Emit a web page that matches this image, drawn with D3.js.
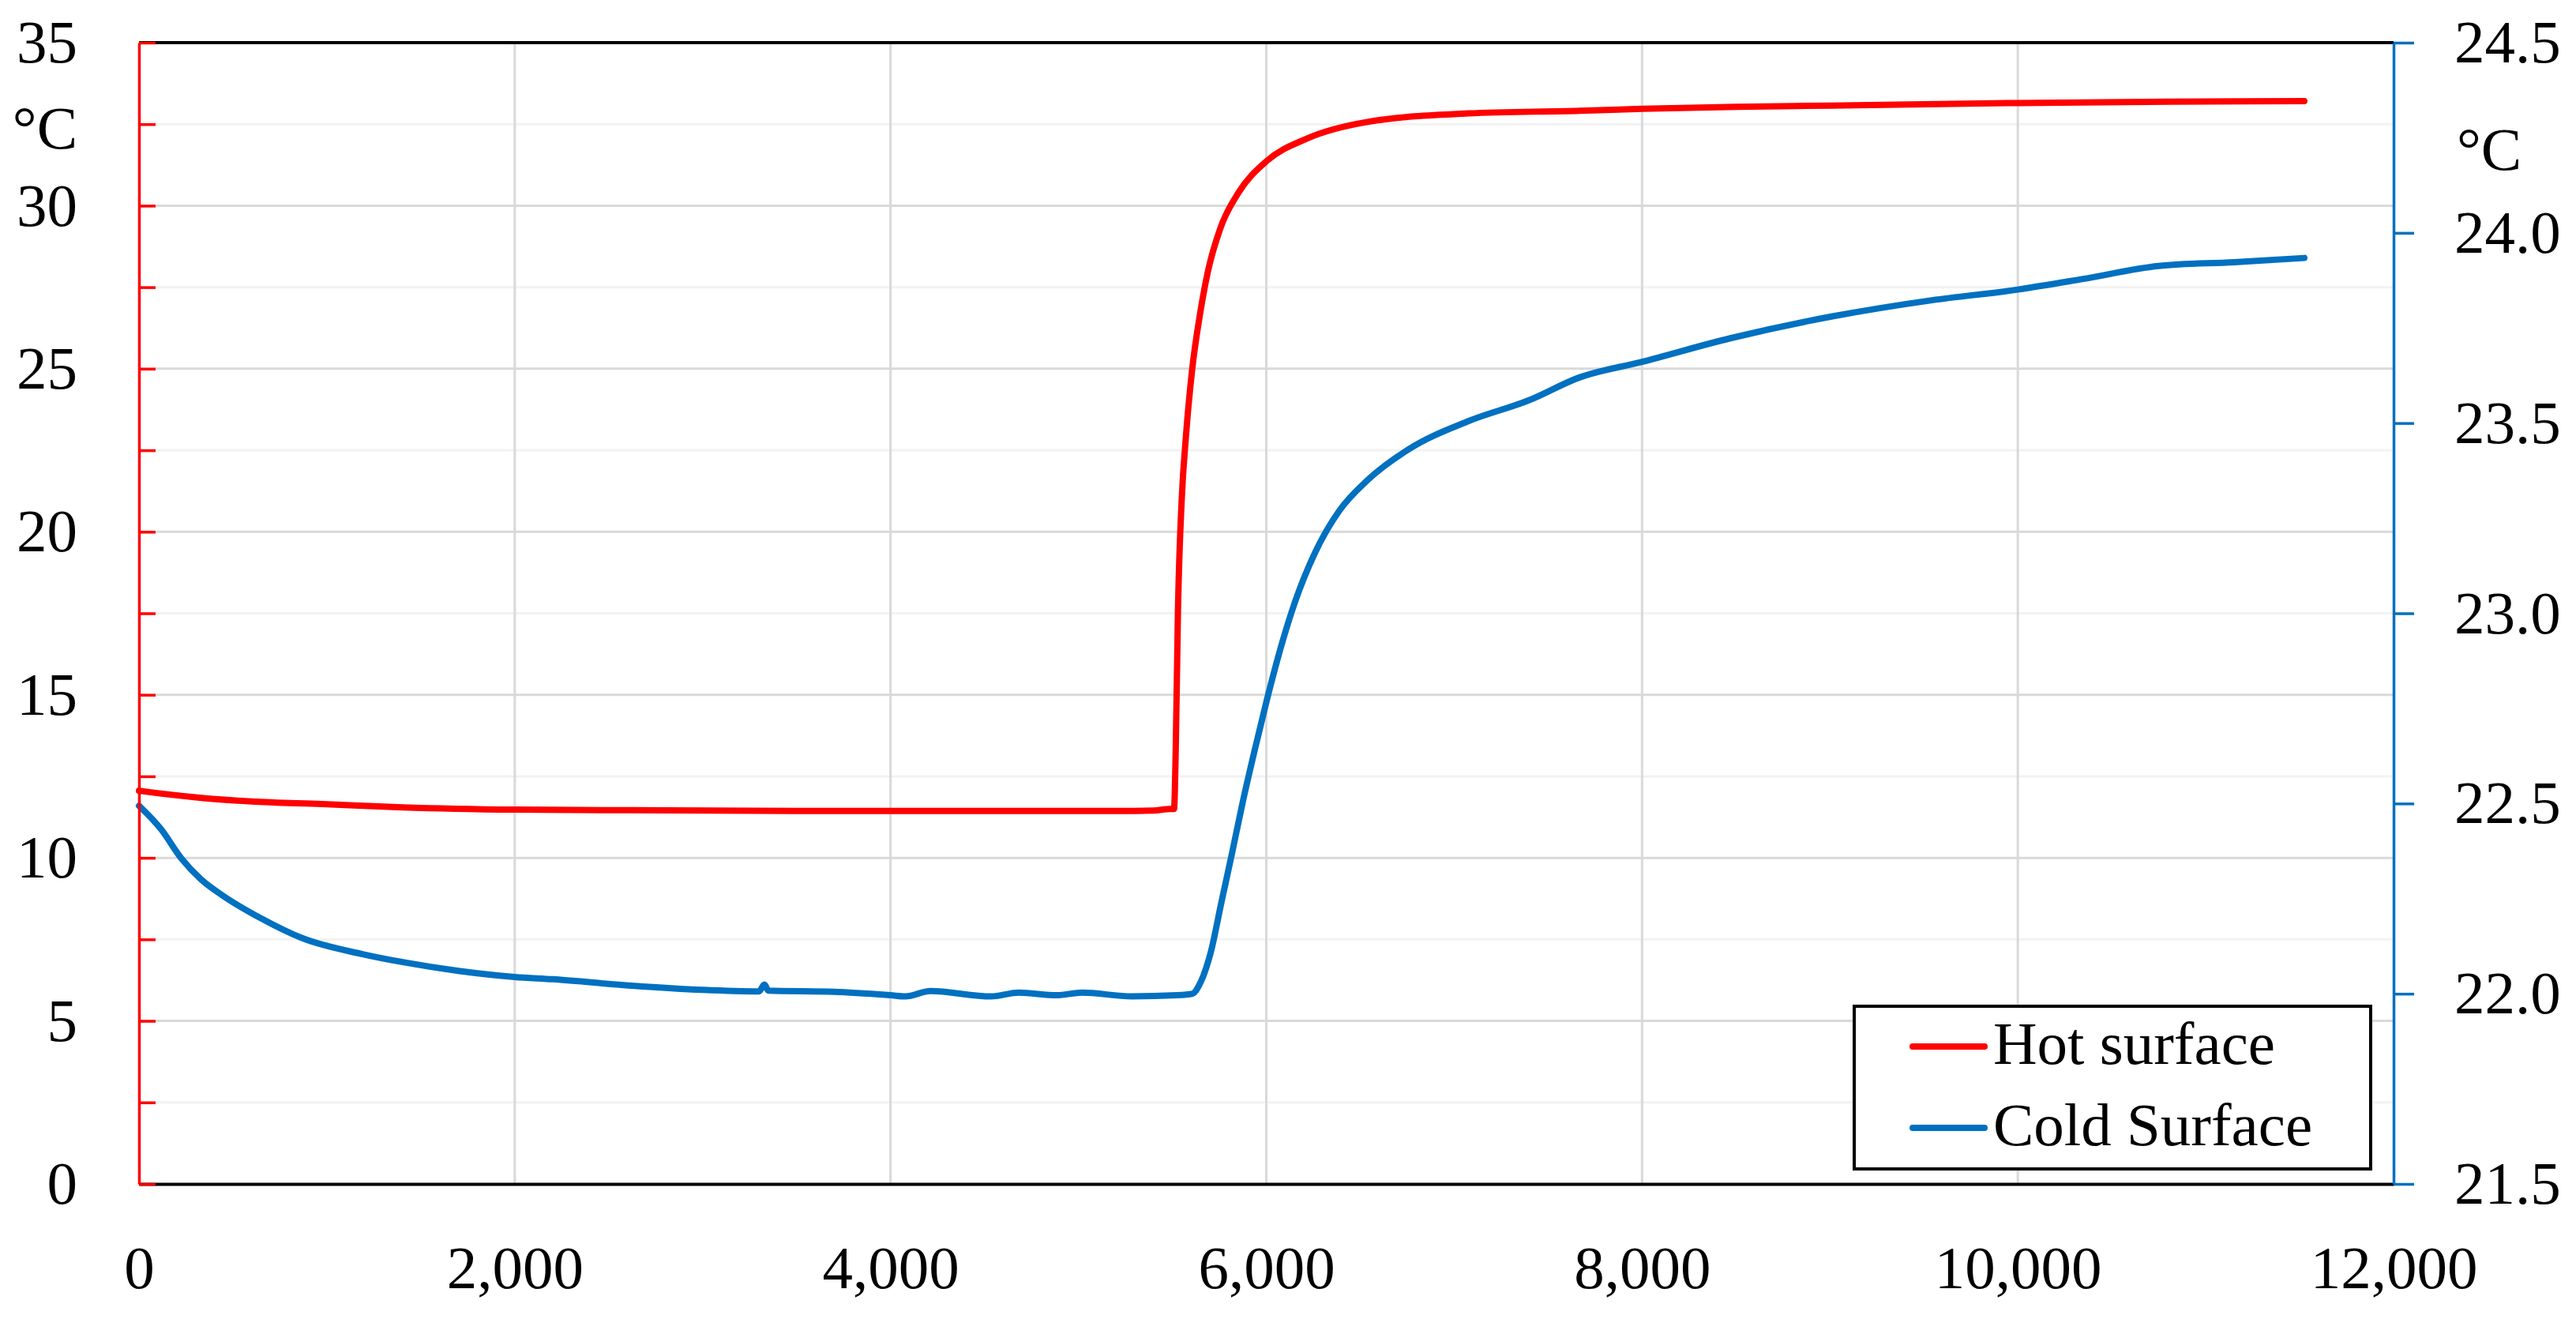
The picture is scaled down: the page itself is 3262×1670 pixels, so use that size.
<!DOCTYPE html>
<html>
<head>
<meta charset="utf-8">
<script src="https://cdn.jsdelivr.net/npm/d3@7"></script>
<style>
body { margin: 0; background: #fff; }
text { font-family: "Liberation Serif", "Times New Roman", serif; }
</style>
</head>
<body>
<div id="chart"></div>
<script>
var W = 3262, H = 1670;

// hot surface, left axis (°C)
var hotTime = [0, 150, 332, 600, 975, 1404, 2000, 2623, 3500, 4500, 5300, 5400, 5490, 5509, 5518, 5530, 5550, 5572, 5604, 5648, 5690, 5755, 5852, 6002, 6217, 6539, 7075, 7667, 8000, 8507, 9000, 10000, 10800, 11525];
var hotTemp = [12.06, 11.95, 11.84, 11.73, 11.65, 11.55, 11.48, 11.46, 11.44, 11.44, 11.44, 11.45, 11.5, 11.5, 13.3, 17.6, 21.0, 22.9, 24.9, 26.7, 28.0, 29.3, 30.4, 31.37, 32.06, 32.57, 32.83, 32.91, 32.97, 33.03, 33.07, 33.15, 33.19, 33.21];

// cold surface, right axis (°C)
var coldTime = [0, 118, 225, 332, 440, 654, 869, 1190, 1404, 1700, 2000, 2203, 2623, 3000, 3300, 3329, 3350, 3700, 4000, 4080, 4212, 4536, 4683, 4885, 5019, 5284, 5527, 5608, 5640, 5705, 5761, 5818, 5873, 5943, 6002, 6089, 6153, 6260, 6389, 6539, 6754, 7075, 7398, 7667, 8000, 8470, 9008, 9543, 10000, 10349, 10749, 11152, 11525];
var coldTemp = [22.494, 22.432, 22.356, 22.30, 22.26, 22.197, 22.146, 22.104, 22.083, 22.06, 22.044, 22.038, 22.021, 22.01, 22.006, 22.024, 22.008, 22.005, 21.996, 21.993, 22.007, 21.993, 22.003, 21.996, 22.003, 21.993, 21.996, 22.0, 22.02, 22.11, 22.24, 22.37, 22.50, 22.65, 22.77, 22.93, 23.03, 23.16, 23.27, 23.35, 23.43, 23.505, 23.56, 23.62, 23.661, 23.723, 23.78, 23.823, 23.851, 23.879, 23.913, 23.923, 23.934];

var xTicks = [0, 2000, 4000, 6000, 8000, 10000, 12000];
var leftTicks = [0, 2.5, 5, 7.5, 10, 12.5, 15, 17.5, 20, 22.5, 25, 27.5, 30, 32.5, 35];
var rightTicks = [21.5, 22.0, 22.5, 23.0, 23.5, 24.0, 24.5];
var seriesNames = ["Hot surface", "Cold Surface"];
var seriesColors = ["#ff0000", "#0070c0"];

// plot box (note: "top" is a reserved window global, so use other names)
var pL = 176, pR = 3031, pT = 54, pB = 1499;
var fs = 77;

var svg = d3.select("#chart").append("svg")
  .attr("width", W).attr("height", H);
svg.append("rect").attr("width", W).attr("height", H).attr("fill", "#fff");

var x = d3.scaleLinear().domain([0, 12000]).range([pL, pR]);
var yL = d3.scaleLinear().domain([0, 35]).range([pB, pT]);
var yR = d3.scaleLinear().domain([21.5, 24.5]).range([pB, pT]);

// grid
svg.append("g").selectAll("line").data(leftTicks.filter(function(d){ return d > 0 && d < 35; }))
  .enter().append("line")
  .attr("x1", pL).attr("x2", pR)
  .attr("y1", function(d){ return yL(d); }).attr("y2", function(d){ return yL(d); })
  .attr("stroke", function(d){ return d % 5 == 0 ? "#d9d9d9" : "#f2f2f2"; })
  .attr("stroke-width", 3);

svg.append("g").selectAll("line").data(xTicks.filter(function(d){ return d > 0 && d < 12000; }))
  .enter().append("line")
  .attr("x1", function(d){ return x(d); }).attr("x2", function(d){ return x(d); })
  .attr("y1", pT).attr("y2", pB)
  .attr("stroke", "#d9d9d9").attr("stroke-width", 3);

// series
var hot = hotTime.map(function(t, i){ return [t, hotTemp[i]]; });
var cold = coldTime.map(function(t, i){ return [t, coldTemp[i]]; });

var hotLine = d3.line().curve(d3.curveMonotoneX)
  .x(function(d){ return x(d[0]); }).y(function(d){ return yL(d[1]); });
var coldLine = d3.line().curve(d3.curveMonotoneX)
  .x(function(d){ return x(d[0]); }).y(function(d){ return yR(d[1]); });

svg.append("path").datum(cold).attr("d", coldLine)
  .attr("fill", "none").attr("stroke", seriesColors[1]).attr("stroke-width", 8)
  .attr("stroke-linecap", "round").attr("stroke-linejoin", "round");
svg.append("path").datum(hot).attr("d", hotLine)
  .attr("fill", "none").attr("stroke", seriesColors[0]).attr("stroke-width", 8)
  .attr("stroke-linecap", "round").attr("stroke-linejoin", "round");

// top border
svg.append("line").attr("x1", pL).attr("x2", pR).attr("y1", pT).attr("y2", pT)
  .attr("stroke", "#000").attr("stroke-width", 4);

// x axis
var gx = svg.append("g").attr("transform", "translate(0," + pB + ")")
  .call(d3.axisBottom(x).tickValues(xTicks).tickSize(0).tickPadding(77).tickFormat(d3.format(",")));
gx.select(".domain").attr("stroke", "#000").attr("stroke-width", 4);
gx.selectAll("text").attr("font-size", fs).attr("fill", "#000")
  .style("font-family", "'Liberation Serif', 'Times New Roman', serif");

// left axis
var gl = svg.append("g").attr("transform", "translate(" + pL + ",0)")
  .call(d3.axisLeft(yL).tickValues(leftTicks).tickSizeInner(-21).tickSizeOuter(0).tickPadding(78)
    .tickFormat(function(d){ return d % 5 == 0 ? d : ""; }));
gl.select(".domain").attr("stroke", seriesColors[0]).attr("stroke-width", 3.5);
gl.selectAll(".tick line").attr("stroke", seriesColors[0]).attr("stroke-width", 3.5);
gl.selectAll("text").attr("font-size", fs).attr("fill", "#000")
  .style("font-family", "'Liberation Serif', 'Times New Roman', serif");

// right axis
var gr = svg.append("g").attr("transform", "translate(" + pR + ",0)")
  .call(d3.axisRight(yR).tickValues(rightTicks).tickSizeInner(26).tickSizeOuter(0).tickPadding(51)
    .tickFormat(d3.format(".1f")));
gr.select(".domain").attr("stroke", seriesColors[1]).attr("stroke-width", 3.5);
gr.selectAll(".tick line").attr("stroke", seriesColors[1]).attr("stroke-width", 3.5);
gr.selectAll("text").attr("font-size", fs).attr("fill", "#000")
  .style("font-family", "'Liberation Serif', 'Times New Roman', serif");

// units
svg.append("text").attr("x", 98).attr("y", 188).attr("text-anchor", "end")
  .attr("font-size", fs).text("°C");
svg.append("text").attr("x", 3111).attr("y", 215).attr("text-anchor", "start")
  .attr("font-size", fs).text("°C");

// legend
var lg = svg.append("g");
lg.append("rect").attr("x", 2348).attr("y", 1274).attr("width", 654).attr("height", 206)
  .attr("fill", "#fff").attr("stroke", "#000").attr("stroke-width", 4);
seriesNames.forEach(function(name, i){
  var ly = 1325 + i * 103;
  lg.append("line").attr("x1", 2422).attr("x2", 2513).attr("y1", ly).attr("y2", ly)
    .attr("stroke", seriesColors[i]).attr("stroke-width", 8).attr("stroke-linecap", "round");
  lg.append("text").attr("x", 2524).attr("y", ly + 22).attr("font-size", fs).text(name);
});
</script>
</body>
</html>
